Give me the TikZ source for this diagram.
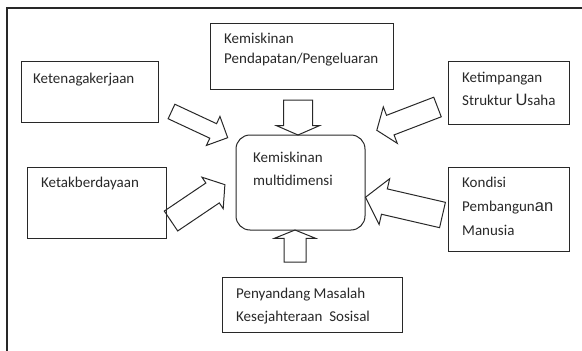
\documentclass[tikz,border=0pt]{standalone}
\usepackage{fontspec}
\setmainfont{Carlito}
\newfontfamily\arialfont{Liberation Sans}
\usepackage{tikz}
\usetikzlibrary{shapes.arrows,positioning}
\definecolor{mydarkgray}{RGB}{40,40,40}
\newcommand{\biggerletters}[1]{{\arialfont\fontsize{16.5}{16.5}\selectfont #1}}
\tikzstyle{box}=[draw=mydarkgray,line width=1pt,rectangle,anchor=north west,inner sep=0pt,outer sep=0pt]
\tikzstyle{boxtext}=[anchor=base west,inner sep=0pt,align=left,text=mydarkgray,font=\fontsize{15}{23}\selectfont]
\tikzstyle{blockarrow}=[draw=mydarkgray,line width=1pt,single arrow,anchor=tail,inner xsep=0pt,outer sep=0pt]

\begin{document}
\begin{tikzpicture}[x=1pt,y=-1pt]
\useasboundingbox (0,0) rectangle (582,351);
% frame
\draw[line width=1.3pt,draw=mydarkgray] (7,351) -- (7,8) -- (582,8);

% boxes
\node [box,minimum width=137pt,minimum height=61pt] (kerja) at (21,61) {};
\node [box,minimum width=183pt,minimum height=66pt] (pendapatan) at (210,23) {};
\node [box,minimum width=121pt,minimum height=63pt] (timpang) at (448,61) {};
\node [box,minimum width=139pt,minimum height=71pt] (daya) at (27,167) {};
\node [box,minimum width=129pt,minimum height=95pt,rounded corners=14pt] (multi) at (236,135) {};
\node [box,minimum width=121pt,minimum height=84pt] (kondisi) at (448,167) {};
\node [box,minimum width=180pt,minimum height=55pt] (pmks) at (222,277) {};

% texts (multi-line ones sit on the baseline of their last line)
\node [boxtext] (kerjatext) at (33,83) {Ketenagakerjaan};
\node [boxtext,font=\fontsize{15}{20}\selectfont] (pendapatantext) at (224,63) {Kemiskinan\\Pendapatan/Pengeluaran};
\node [boxtext] (timpangtext) at (462,105) {Ketimpangan\\Struktur \biggerletters{U}saha};
\node [boxtext] (dayatext) at (41,187) {Ketakberdayaan};
\node [boxtext] (multitext) at (253,185) {Kemiskinan\\multidimensi};
\node [boxtext,font=\fontsize{15}{24}\selectfont] (kondisitext) at (462,235) {Kondisi\\Pembangun\biggerletters{an}\\Manusia};
\node [boxtext] (pmkstext) at (236,321) {Penyandang Masalah\\Kesejahteraan\ \ Sosisal};

% arrows
\node [blockarrow,rotate=-25,minimum height=62pt,inner ysep=7.5pt,single arrow head extend=8pt,single arrow tip angle=90] (arrkerja) at (171.5,111.5) {};
\node [blockarrow,rotate=34,minimum height=65pt,inner ysep=11.5pt,single arrow head extend=7pt,single arrow tip angle=104] (arrdaya) at (171,221) {};
\node [blockarrow,rotate=-90,minimum height=35pt,inner ysep=14pt,single arrow head extend=7pt,single arrow tip angle=133] (arrpendapatan) at (298,100) {};
\node [blockarrow,rotate=90,minimum height=32pt,inner ysep=10.5pt,single arrow head extend=9.5pt,single arrow tip angle=136] (arrpmks) at (295,262) {};
\node [blockarrow,rotate=201,minimum height=65pt,inner ysep=10pt,single arrow head extend=9pt,single arrow tip angle=107] (arrtimpang) at (437.5,107) {};
\node [blockarrow,rotate=167,minimum height=79pt,inner ysep=12.5pt,single arrow head extend=10.5pt,single arrow tip angle=101] (arrkondisi) at (442.5,215) {};
\end{tikzpicture}
\end{document}
